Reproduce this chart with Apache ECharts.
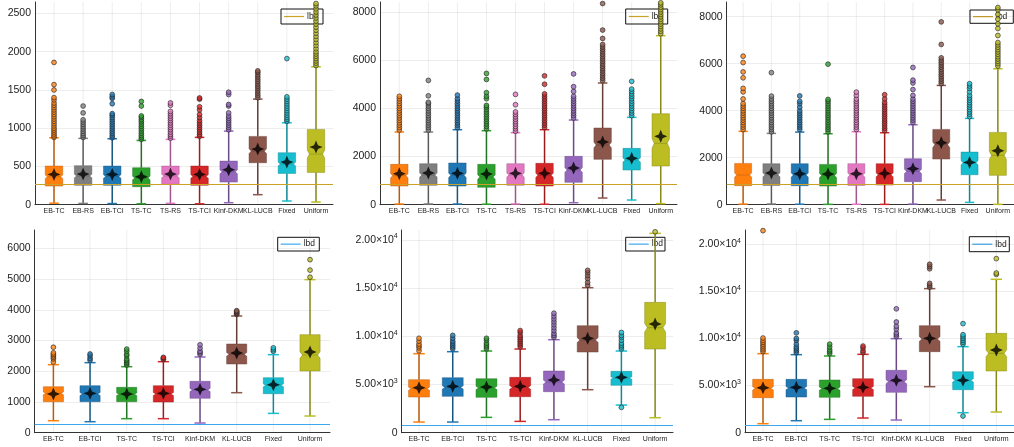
<!DOCTYPE html>
<html><head><meta charset="utf-8">
<script src="https://cdn.jsdelivr.net/npm/echarts@6/dist/echarts.min.js"></script>
<style>html,body{margin:0;padding:0;background:#fff}#c{width:1014px;height:447px}</style>
</head><body><div id="c"></div>
<script>
// ---------- categories ----------
const methodsTop = ['EB-TC','EB-RS','EB-TCI','TS-TC','TS-RS','TS-TCI','Kinf-DKM','KL-LUCB','Fixed','Uniform'];
const methodsBottom = ['EB-TC','EB-TCI','TS-TC','TS-TCI','Kinf-DKM','KL-LUCB','Fixed','Uniform'];
const colorOf = {'EB-TC':'#ff7f0e','EB-RS':'#7f7f7f','EB-TCI':'#1f77b4','TS-TC':'#2ca02c','TS-RS':'#e377c2',
  'TS-TCI':'#d62728','Kinf-DKM':'#9467bd','KL-LUCB':'#8c564b','Fixed':'#17becf','Uniform':'#bcbd22'};

// ---------- box stats: [lowWhisker, Q1, median, Q3, highWhisker] ----------
const statsA = [[20,244,365,505,875],[17,253,375,510,867],[15,253,370,505,862],[12,235,350,483,840],[18,266,375,505,854],
  [12,253,370,505,880],[26,296,430,570,962],[131,549,700,893,1380],[48,409,531,679,1071],[35,422,662,984,1803]];
const meansA = [396,400,396,366,400,396,457,727,557,753];
const statsB = [[28,775,1204,1675,3017],[30,803,1230,1702,3017],[28,775,1220,1730,3114],[20,720,1150,1675,3072],[30,803,1230,1702,2989],
  [20,775,1220,1716,3114],[83,927,1440,2007,3515],[277,1882,2477,3183,5052],[194,1439,1855,2339,3626],[42,1605,2547,3778,7017]];
const meansB = [1287,1315,1301,1273,1301,1301,1522,2602,1924,2837];
const statsC = [[25,808,1262,1758,3120],[30,822,1270,1744,3035],[20,808,1260,1744,3091],[15,794,1240,1716,3020],[20,822,1260,1744,3105],
  [15,837,1270,1744,3063],[28,978,1418,1957,3403],[199,1943,2552,3205,5076],[99,1276,1787,2240,3673],[14,1248,2099,3077,5785]];
const meansC = [null,1347,1319,1305,1319,1333,1531,2637,1801,2297];
const statsD = [[391,1009,1280,1497,2213],[358,1009,1260,1530,2279],[456,1009,1250,1476,2148],[456,998,1260,1530,2311],
  [315,1118,1389,1671,2463],[1302,2235,2550,2886,3798],[629,1269,1541,1790,2539],[543,2007,2528,3190,4980]];
const meansD = [1259,1280,1259,1280,1411,2593,1562,2626];
const statsE = [[1107,3702,4567,5501,8200],[1107,3771,4700,5709,8408],[1592,3668,4650,5605,8477],[1176,3737,4700,5744,8685],
  [1349,4256,5259,6401,9653],[4463,8373,9619,11107,15051],[2872,4913,5674,6366,8477],[1557,8685,10899,13529,20691]];
const meansE = [4671,4809,4740,4809,5467,9792,5744,11280];
const statsF = [[956,3717,4708,5664,8390],[1274,3788,4740,5664,8284],[1416,3752,4673,5593,8142],[1558,3859,4744,5735,8319],
  [1345,4283,5416,6620,9983],[4885,8602,9947,11363,15293],[2124,4567,5558,6478,9133],[2195,6549,8425,10549,16284]];
const meansF = [4779,4814,4708,4814,5558,10018,5558,8779];

// ---------- outliers ----------
const outA = [
  [880,900,925,950,975,1000,1030,1060,1090,1120,1150,1180,1210,1240,1270,1300,1330,1370,1400,1500,1570,1860],
  [880,905,930,960,990,1020,1050,1080,1110,1200,1290],
  [875,900,930,960,990,1020,1050,1080,1110,1140,1170,1190,1320,1390,1410,1440],
  [855,880,905,935,965,995,1025,1055,1085,1110,1140,1160,1290,1350],
  [870,895,920,950,980,1010,1040,1070,1100,1130,1160,1190,1220,1300,1330],
  [895,920,950,980,1010,1040,1070,1100,1140,1180,1240,1280,1380,1395],
  [980,1010,1040,1070,1100,1130,1160,1200,1290,1310,1440,1470],
  [1400,1430,1460,1490,1520,1550,1580,1610,1640,1670,1700,1730,1750],
  [1090,1115,1140,1170,1200,1230,1260,1290,1320,1350,1380,1410,1910],
  [1820,1850,1880,1910,1940,1970,2000,2040,2080,2120,2160,2200,2240,2280,2320,2360,2400,2440,2480,2520,2560,2600,2630]];
const outB = [
  [3100,3200,3300,3400,3500,3600,3700,3800,3900,4000,4100,4200,4300,4400,4500],
  [3100,3200,3300,3400,3500,3600,3700,3800,3900,4000,4100,4200,4250,4520,5160],
  [3200,3300,3400,3500,3600,3700,3800,3900,4000,4100,4200,4300,4400,4550],
  [3150,3250,3350,3450,3550,3650,3750,3850,3950,4050,4120,4400,4500,4650,5200,5450],
  [3050,3150,3250,3350,3450,3550,3650,3750,3850,4150,4580],
  [3200,3300,3400,3500,3600,3700,3800,3900,4000,4100,4200,4300,4400,4500,4600,5000,5350],
  [3600,3700,3800,3900,4000,4100,4200,4300,4400,4500,4700,4900,5430],
  [5150,5250,5350,5450,5550,5650,5750,5850,5950,6050,6150,6250,6350,6450,6550,6650,6900,7250,8350],
  [3700,3800,3900,4000,4100,4200,4300,4400,4500,4600,4700,4800,5120],
  [7100,7200,7300,7400,7500,7600,7700,7800,7900,8000,8100,8200,8300,8380]];
const outC = [
  [3200,3300,3400,3500,3600,3700,3800,3900,4000,4100,4200,4300,4500,4800,4950,5400,5650,6050,6320],
  [3100,3200,3300,3400,3500,3600,3700,3800,3900,4000,4100,4200,4300,4400,4500,4620,5620],
  [3200,3300,3400,3500,3600,3700,3800,3900,4000,4150,4300,4400,4630],
  [3100,3200,3300,3400,3500,3600,3700,3800,3900,4000,4100,4200,4300,4400,4480,5980],
  [3200,3300,3400,3500,3600,3700,3800,3900,4000,4100,4200,4300,4400,4500,4650,4790],
  [3150,3250,3350,3450,3550,3650,3750,3850,3950,4050,4150,4250,4350,4500,4680],
  [3500,3600,3700,3800,3900,4000,4100,4200,4300,4400,4500,4650,4900,5180,5300,5840],
  [5150,5250,5350,5450,5550,5650,5750,5850,5950,6050,6150,6250,6820,7780],
  [3750,3850,3950,4050,4150,4250,4350,4450,4550,4650,4800,4950,5050,5150],
  [5900,6000,6100,6200,6300,6400,6500,6600,6700,6800,6900,7200,7500,7700,7900,8100,8300,8390]];
const outD = [
  [2300,2400,2450,2500,2550,2600,2780],
  [2360,2420,2500,2560],
  [2200,2250,2300,2350,2400,2500,2550,2650,2720],
  [2380,2420,2450],
  [2550,2600,2650,2750,2860],
  [3850,3880,3910,3940,3970],
  [2650,2700,2760],
  [5060,5290,5630]];
const outE = [
  [8500,8800,9000,9200,9500,9800],
  [8700,8900,9100,9300,9500,9800,10100],
  [8700,8900,9100,9300,9600,9800],
  [8900,9100,9300,9500,9700,9900,10100,10400,10600],
  [9900,10100,10300,10600,10900,11200,11500,11800,12100,12400],
  [15300,15600,16000,16300,16600,16850],
  [2630,8700,8900,9100,9300,9600,9900,10100,10400],
  [20850]];
const outF = [
  [8600,8800,9000,9200,9400,9600,9800,10050,21450],
  [8500,8700,8900,9100,9400,9800,10000,10600],
  [8400,8600,8800,9100,9400],
  [8500,8700,9000,9200],
  [10200,10400,10600,11000,11300,11750,13150],
  [15450,15650,15850,17400,17650,17880],
  [1770,9400,9600,9800,10000,10200,10400,11580],
  [16800,16950,18480]];

// ---------- lower bound lines ----------
const lbdValues = [266, 844, 865, 271, 796, 814];
const lbdColors = ['#c9a227','#c9a227','#c9a227','#3ea8ee','#3ea8ee','#3ea8ee'];

// ---------- tick labels ----------
const ticksA = [0,500,1000,1500,2000,2500];
const ticksB = [0,2000,4000,6000,8000];
const ticksD = [0,1000,2000,3000,4000,5000,6000];
const ticksSci = [0,5000,10000,15000,20000];
const ticksSciLabels = ['0','{m|5.00×10}{e|3}','{m|1.00×10}{e|4}','{m|1.50×10}{e|4}','{m|2.00×10}{e|4}'];

const FONT = 'Liberation Sans, Arial, sans-serif';

const panels = [
  {methods:methodsTop, stats:statsA, means:meansA, outs:outA, grid:{left:35,top:2,width:298,height:202.7}, xmin:0.347, xmax:10.584, ymax:2650, interval:500, ticks:ticksA, labels:null, bw:0.6, legend:[281,9,42,15]},
  {methods:methodsTop, stats:statsB, means:meansB, outs:outB, grid:{left:380,top:2,width:297,height:202.7}, xmin:0.335, xmax:10.56, ymax:8415, interval:2000, ticks:ticksB, labels:null, bw:0.6, legend:[625.7,9,42,15]},
  {methods:methodsTop, stats:statsC, means:meansC, outs:outC, grid:{left:726.7,top:2,width:292,height:202.7}, xmin:0.42, xmax:10.57, ymax:8626, interval:2000, ticks:ticksB, labels:null, bw:0.6, legend:[970,10,43.3,13.3]},
  {methods:methodsBottom, stats:statsD, means:meansD, outs:outD, grid:{left:34.7,top:230,width:295.3,height:202.7}, xmin:0.49, xmax:8.545, ymax:6595, interval:1000, ticks:ticksD, labels:null, bw:0.55, legend:[277.7,237.3,41.6,13.7]},
  {methods:methodsBottom, stats:statsE, means:meansE, outs:outE, grid:{left:401.7,top:230,width:271.3,height:202.7}, xmin:0.487, xmax:8.53, ymax:21038, interval:5000, ticks:ticksSci, labels:ticksSciLabels, bw:0.62, legend:[625.7,237.3,39.3,13.7]},
  {methods:methodsBottom, stats:statsF, means:meansF, outs:outF, grid:{left:745,top:230,width:274,height:202.7}, xmin:0.46, xmax:8.53, ymax:21518, interval:5000, ticks:ticksSci, labels:ticksSciLabels, bw:0.62, legend:[969.3,236.7,40,15]}
];

function darken(hex, f) {
  const n = parseInt(hex.slice(1), 16);
  const r = Math.round(((n >> 16) & 255) * f), g = Math.round(((n >> 8) & 255) * f), b = Math.round((n & 255) * f);
  return 'rgb(' + r + ',' + g + ',' + b + ')';
}

function makeRender(methods, boxW) {
  return function (params, api) {
    const i = params.dataIndex;
    const x = api.value(0);
    const low = api.value(1), q1 = api.value(2), med = api.value(3), q3 = api.value(4), high = api.value(5);
    const c = colorOf[methods[i]], d = darken(c, 0.72);
    const cs = params.coordSys;
    const px = api.coord([x, 0])[0];
    const hw = api.size([boxW, 0])[0] / 2;
    const y = v => api.coord([x, v])[1];
    const nh = 0.09 * (q3 - q1);
    const ind = hw * 0.25;
    const pts = [[px-hw,y(q1)],[px+hw,y(q1)],[px+hw,y(med-nh)],[px+hw-ind,y(med)],[px+hw,y(med+nh)],
      [px+hw,y(q3)],[px-hw,y(q3)],[px-hw,y(med+nh)],[px-hw+ind,y(med)],[px-hw,y(med-nh)]];
    const cw = hw * 0.55;
    return {type:'group', children:[
      {type:'line', silent:true, shape:{x1:px,y1:cs.y,x2:px,y2:cs.y+cs.height}, style:{stroke:'rgba(0,0,0,0.09)', lineWidth:0.8}},
      {type:'line', shape:{x1:px,y1:y(low),x2:px,y2:y(q1)}, style:{stroke:d, lineWidth:1.5}},
      {type:'line', shape:{x1:px,y1:y(q3),x2:px,y2:y(high)}, style:{stroke:d, lineWidth:1.5}},
      {type:'line', shape:{x1:px-cw,y1:y(low),x2:px+cw,y2:y(low)}, style:{stroke:c, lineWidth:1.5}},
      {type:'line', shape:{x1:px-cw,y1:y(high),x2:px+cw,y2:y(high)}, style:{stroke:c, lineWidth:1.5}},
      {type:'polygon', shape:{points:pts}, style:{fill:c, stroke:d, opacity:1, lineWidth:1, strokeOpacity:0.45}},
      {type:'line', shape:{x1:px-hw+ind,y1:y(med),x2:px+hw-ind,y2:y(med)}, style:{stroke:d, lineWidth:1, opacity:0.5}}
    ]};
  };
}

const STAR = 'path://M0,-10 L3,-3 L10,0 L3,3 L0,10 L-3,3 L-10,0 L-3,-3 Z';

const grids = [], xAxes = [], yAxes = [], series = [], graphics = [];
panels.forEach((p, gi) => {
  grids.push(Object.assign({containLabel:false}, p.grid));
  const pos = p.methods.map((m, i) => i + 1);
  xAxes.push({gridIndex:gi, type:'value', min:p.xmin, max:p.xmax,
    axisLine:{show:true, onZero:false, lineStyle:{color:'#333', width:1}},
    axisTick:{show:false}, splitLine:{show:false},
    axisLabel:{customValues:pos, formatter:v => p.methods[Math.round(v) - 1] || '', fontSize:7, color:'#222', fontFamily:FONT, margin:3}});
  yAxes.push({gridIndex:gi, type:'value', min:0, max:p.ymax, interval:p.interval,
    axisLine:{show:true, lineStyle:{color:'#333', width:1}},
    axisTick:{show:false},
    axisLabel:{fontSize:10.5, color:'#222', fontFamily:FONT, margin:4,
      formatter:v => { const k = p.ticks.indexOf(v); if (k < 0) return ''; return p.labels ? p.labels[k] : String(v); },
      rich:{m:{fontSize:10.5, color:'#222', fontFamily:FONT, lineHeight:14}, e:{fontSize:7, color:'#222', fontFamily:FONT, verticalAlign:'top', lineHeight:8}}},
    splitLine:{show:true, showMaxLine:false, lineStyle:{color:'rgba(0,0,0,0.09)', width:0.8}}});
  series.push({type:'custom', xAxisIndex:gi, yAxisIndex:gi, z:2, clip:false,
    renderItem:makeRender(p.methods, p.bw),
    encode:{x:0, y:[1,2,3,4,5]},
    data:p.stats.map((s, i) => [i + 1].concat(s))});
  const od = [];
  p.outs.forEach((arr, i) => arr.forEach(v => od.push({value:[i + 1, v], itemStyle:{color:colorOf[p.methods[i]]}})));
  series.push({type:'scatter', xAxisIndex:gi, yAxisIndex:gi, z:3, symbol:'circle', symbolSize:4.8,
    itemStyle:{borderColor:'#222', borderWidth:0.8}, data:od, silent:true});
  const md = [];
  p.means.forEach((v, i) => { if (v !== null) md.push([i + 1, v]); });
  series.push({type:'scatter', xAxisIndex:gi, yAxisIndex:gi, z:4, symbol:STAR, symbolSize:13,
    itemStyle:{color:'#000'}, data:md, silent:true});
  series.push({type:'line', xAxisIndex:gi, yAxisIndex:gi, z:5, data:[], silent:true,
    markLine:{silent:true, symbol:'none', animation:false, label:{show:false},
      lineStyle:{color:lbdColors[gi], width:1.2, type:'solid'}, data:[{yAxis:lbdValues[gi]}]}});
  const [lx, ly, lw, lh] = p.legend;
  graphics.push({type:'group', z:100, children:[
    {type:'rect', shape:{x:lx, y:ly, width:lw, height:lh}, style:{fill:'#fff', stroke:'#111', lineWidth:1}},
    {type:'line', shape:{x1:lx + 3, y1:ly + lh / 2, x2:lx + 23, y2:ly + lh / 2}, style:{stroke:lbdColors[gi], lineWidth:1.2}},
    {type:'text', x:lx + 26, y:ly + lh / 2, style:{text:'lbd', fill:'#222', fontSize:8.5, fontFamily:FONT, align:'left', verticalAlign:'middle'}}
  ]});
});

const chart = echarts.init(document.getElementById('c'), null, {renderer:'canvas'});
chart.setOption({animation:false, backgroundColor:'#fff', grid:grids, xAxis:xAxes, yAxis:yAxes, series:series, graphic:graphics});
</script></body></html>
